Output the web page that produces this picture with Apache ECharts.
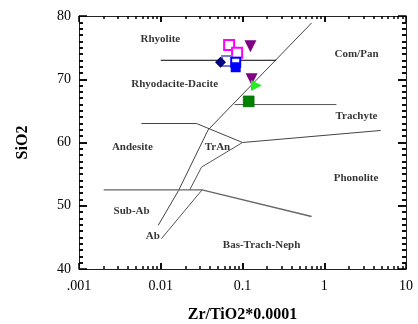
<!DOCTYPE html>
<html><head><meta charset="utf-8">
<script src="https://cdn.jsdelivr.net/npm/echarts@6/dist/echarts.min.js"></script>
<style>html,body{margin:0;padding:0;background:#fff}#c{width:418px;height:324px}</style>
</head><body><div id="c"></div>
<script>
// Tick labels
const xTickLabels = ['.001', '0.01', '0.1', '1', '10'];
const yTickValues = [40, 50, 60, 70, 80];

// Field boundaries [Zr/TiO2*0.0001, SiO2]
const lineDiagonal = [[0.0093, 46.9], [0.0165, 52.4], [0.038, 62.0], [0.70, 78.9]];
const line73 = [[0.01, 73], [0.258, 73]];
const line66 = [[0.08, 66], [1.41, 66]];
const lineAndesiteTop = [[0.0058, 63], [0.0274, 63], [0.1, 60], [4.9, 61.9]];
const lineTrAnLow = [[0.1, 60], [0.0315, 56.1], [0.0226, 52.5]];
const line525 = [[0.002, 52.5], [0.032, 52.5], [0.70, 48.3]];
const lineAbRight = [[0.032, 52.5], [0.0102, 44.8]];

// Samples
const magentaOpen = [[0.0686, 75.4], [0.0859, 74.2]];
const purpleTri = [[0.125, 75.2], [0.129, 70.0]];
const slateOpen = [[0.0648, 72.9]];
const navyDiamond = [[0.0538, 72.7]];
const blueOpen = [[0.0826, 72.7]];
const blueFilled = [[0.0826, 71.9]];
const greenTri = [[0.148, 69.0]];
const darkGreenSq = [[0.119, 66.5]];

// Field names
const fieldNames = ['Rhyolite', 'Com/Pan', 'Rhyodacite-Dacite', 'Trachyte', 'Andesite', 'TrAn', 'Phonolite', 'Sub-Ab', 'Ab', 'Bas-Trach-Neph'];
const fieldX = [0.0099, 2.48, 0.0148, 2.48, 0.0045, 0.0494, 2.45, 0.0044, 0.0080, 0.171];
const fieldY = [76.3, 74.0, 69.3, 64.2, 59.2, 59.2, 54.35, 49.2, 45.25, 43.7];

// tick positions
const majorX = [0.01, 0.1, 1];
const minorX = [];
[0.001, 0.01, 0.1, 1].forEach(d => { for (let k = 2; k <= 9; k++) minorX.push(d * k); });
const minorY = [];
for (let y = 41; y < 80; y++) if (y % 10 !== 0) minorY.push(y);
const majorY = [50, 60, 70];

const FONT = 'Liberation Serif';
const TICK = '#000';
const PX_Y = 253 / 40, PX_DEC = 327 / 4;
const chart = echarts.init(document.getElementById('c'));

function lineSeries(data, color, width) {
  return { type: 'line', data: data, symbol: 'none', silent: true,
    lineStyle: { color: color, width: width }, z: 2 };
}
function scatter(data, symbol, size, color, border, bw, rotate) {
  return { type: 'scatter', data: data, symbol: symbol, symbolSize: size, symbolRotate: rotate || 0,
    itemStyle: { color: color, borderColor: border, borderWidth: bw, opacity: 1 }, z: 5 };
}
function xAxisCfg(pos, labels) {
  return {
    type: 'log', logBase: 10, min: 0.001, max: 10, position: pos,
    axisLine: { show: true, lineStyle: { color: '#222', width: 1 } },
    axisTick: { show: true, inside: true, length: 6, lineStyle: { color: TICK, width: 1.5 } },
    splitLine: { show: false },
    axisLabel: labels ? { show: true, margin: 10, color: '#000', fontFamily: FONT, fontSize: 14,
      formatter: v => xTickLabels[Math.round(Math.log10(v)) + 3] } : { show: false }
  };
}
function yAxisCfg(pos, labels) {
  return {
    type: 'value', min: 40, max: 80, interval: 10, position: pos,
    axisLine: { show: true, lineStyle: { color: '#222', width: 1 } },
    axisTick: { show: true, inside: true, length: 8, lineStyle: { color: TICK, width: 1.5 } },
    minorTick: { show: true, splitNumber: 10, length: 4, lineStyle: { color: TICK, width: 1.5 } },
    splitLine: { show: false },
    axisLabel: labels ? { show: true, margin: 8, color: '#000', fontFamily: FONT, fontSize: 14 } : { show: false }
  };
}

const tickSegs = [];
function xTick(v, len) {
  const dy = len / PX_Y;
  tickSegs.push({ coords: [[v, 40], [v, 40 + dy]] });
  tickSegs.push({ coords: [[v, 80], [v, 80 - dy]] });
}
function yTick(v, len) {
  const f = Math.pow(10, len / PX_DEC);
  tickSegs.push({ coords: [[0.001, v], [0.001 * f, v]] });
  tickSegs.push({ coords: [[10, v], [10 / f, v]] });
}
minorX.forEach(v => xTick(v, 3));
majorX.forEach(v => xTick(v, 6));
minorY.forEach(v => yTick(v, 4));
majorY.forEach(v => yTick(v, 8));

const xb = xAxisCfg('bottom', true);
xb.name = 'Zr/TiO2*0.0001'; xb.nameLocation = 'middle'; xb.nameGap = 38;
xb.nameTextStyle = { color: '#000', fontFamily: FONT, fontSize: 16, fontWeight: 'bold' };
const yl = yAxisCfg('left', true);
yl.name = 'SiO2'; yl.nameLocation = 'middle'; yl.nameGap = 48;
yl.nameTextStyle = { color: '#000', fontFamily: FONT, fontSize: 16, fontWeight: 'bold' };

chart.setOption({
  backgroundColor: '#fff',
  animation: false,
  grid: { left: 79, right: 12, top: 16, bottom: 55, outerBoundsMode: 'none', containLabel: false },
  xAxis: [xb, xAxisCfg('top', false)],
  yAxis: [yl, yAxisCfg('right', false)],
  series: [
    lineSeries(lineDiagonal, '#444', 1),
    lineSeries(line73, '#000', 1),
    lineSeries(line66, '#555', 1),
    lineSeries(lineAndesiteTop, '#444', 1),
    lineSeries(lineTrAnLow, '#555', 1),
    lineSeries(line525, '#666', 1.3),
    lineSeries(lineAbRight, '#555', 1),
    {
      type: 'lines', coordinateSystem: 'cartesian2d', data: tickSegs, silent: true, z: 3,
      polyline: false, effect: { show: false },
      lineStyle: { color: TICK, width: 1.5, opacity: 1, curveness: 0 }
    },
    {
      type: 'scatter', data: fieldNames.map((n, i) => [fieldX[i], fieldY[i], n]),
      symbolSize: 0, silent: true, z: 4,
      label: { show: true, position: 'inside', formatter: p => p.data[2],
        color: '#000', fontFamily: FONT, fontSize: 11, fontWeight: 'bold' }
    },
    scatter(magentaOpen, 'rect', 10, '#fff', '#ff00ff', 2),
    scatter(slateOpen, 'rect', 10, '#fff', '#7a7ad0', 2),
    scatter(navyDiamond, 'diamond', 11, '#000080', '#000080', 0),
    scatter(blueOpen, 'rect', 9, '#fff', '#0000ff', 2),
    scatter(blueFilled, 'rect', 10, '#0000ff', '#0000ff', 0),
    scatter(purpleTri, 'triangle', 12, '#800080', '#800080', 0, 180),
    scatter(greenTri, 'triangle', 11, '#22ee22', '#22ee22', 0, -90),
    scatter(darkGreenSq, 'rect', 11, '#008000', '#006000', 0.5)
  ]
});
</script></body></html>
